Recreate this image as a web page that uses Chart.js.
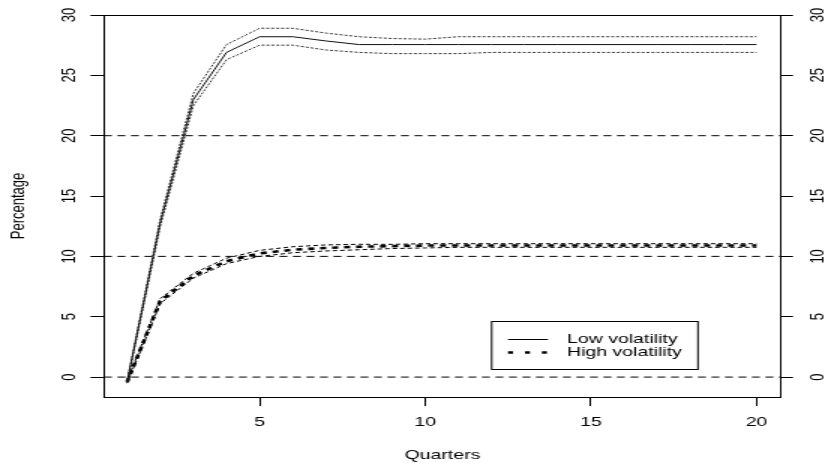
<!DOCTYPE html>
<html>
<head>
<meta charset="utf-8">
<script src="https://cdn.jsdelivr.net/npm/chart.js@4/dist/chart.umd.min.js"></script>
<style>
  html, body { margin: 0; padding: 0; background: #fff; overflow: hidden; }
  /* the plot is drawn narrow and widened 1.5x, like the stretched R export */
  #wrap { width: 556px; height: 468px; transform: scaleX(1.5); transform-origin: 0 0; }
</style>
</head>
<body>
<div id="wrap"><canvas id="irfChart" width="556" height="468"></canvas></div>
<script>
const quarters = [1, 2, 3, 4, 5, 6, 7, 8, 9, 10, 11, 12, 13, 14, 15, 16, 17, 18, 19, 20];

const lowVol   = [-0.4, 12.8, 23.0, 26.9, 28.2, 28.2, 27.85, 27.55, 27.55, 27.55, 27.55, 27.55, 27.55, 27.55, 27.55, 27.55, 27.55, 27.55, 27.55, 27.55];
const lowUpper = [-0.3, 13.1, 23.5, 27.55, 28.9, 28.9, 28.5, 28.2, 28.05, 28.0, 28.2, 28.2, 28.2, 28.2, 28.2, 28.2, 28.2, 28.2, 28.2, 28.2];
const lowLower = [-0.5, 12.5, 22.5, 26.3, 27.5, 27.5, 27.1, 26.9, 26.8, 26.8, 26.8, 26.9, 26.9, 26.9, 26.9, 26.9, 26.9, 26.9, 26.9, 26.9];

const highVol   = [-0.4, 6.3, 8.4, 9.6, 10.25, 10.55, 10.7, 10.8, 10.85, 10.9, 10.9, 10.9, 10.9, 10.9, 10.9, 10.9, 10.9, 10.9, 10.9, 10.9];
const highUpper = [-0.3, 6.5, 8.6, 9.85, 10.5, 10.8, 10.95, 11.0, 11.0, 11.05, 11.05, 11.05, 11.05, 11.05, 11.05, 11.05, 11.05, 11.05, 11.05, 11.05];
const highLower = [-0.5, 6.1, 8.2, 9.4, 10.0, 10.3, 10.45, 10.55, 10.65, 10.7, 10.75, 10.75, 10.75, 10.75, 10.75, 10.75, 10.75, 10.75, 10.75, 10.75];

const refLevels = [0, 10, 20];
const xTicks = [5, 10, 15, 20];
const yTicks = [0, 5, 10, 15, 20, 25, 30];
const legendLabels = ["Low volatility", "High volatility"];

const X_MIN = 0.3, X_MAX = 20.74;
const Y_MIN = -1.65, Y_MAX = 30;
const FONT = '"Liberation Sans", Arial, sans-serif';

const toPoints = (vals) => quarters.map((q, i) => ({ x: q, y: vals[i] }));

function series(vals, width, dash, color) {
  return {
    data: toPoints(vals),
    borderColor: color || "#000",
    borderWidth: width,
    borderDash: dash,
    pointRadius: 0,
    tension: 0,
    fill: false
  };
}

const datasets = [
  series(lowVol, 1, [], "#111"),
  series(lowUpper, 1, [2, 1.3], "#333"),
  series(lowLower, 1, [2, 1.3], "#333"),
  series(highUpper, 1, [3, 2]),
  series(highLower, 1, [3, 2]),
  series(highVol, 2.6, [4, 4])
];

// horizontal dashed reference lines
refLevels.forEach((lvl) => {
  datasets.push({
    data: [{ x: X_MIN, y: lvl }, { x: X_MAX, y: lvl }],
    borderColor: "#000",
    borderWidth: 1,
    borderDash: [5.3, 3.7],
    pointRadius: 0
  });
});

// rotated y labels on both sides plus the top edge of the box
const frameText = {
  id: "frameText",
  afterDraw(chart) {
    const ctx = chart.ctx;
    const area = chart.chartArea;
    ctx.save();
    ctx.fillStyle = "#000";
    ctx.font = "13px " + FONT;
    ctx.textAlign = "center";
    ctx.textBaseline = "middle";
    [["y", area.left - 22.6], ["y2", area.right + 24.6]].forEach(([id, cx]) => {
      const scale = chart.scales[id];
      scale.ticks.forEach((t) => {
        const py = scale.getPixelForValue(t.value);
        ctx.save();
        ctx.translate(cx, py);
        ctx.rotate(-Math.PI / 2);
        ctx.fillText(String(t.value), 0, 0);
        ctx.restore();
      });
    });
    ctx.strokeStyle = "#000";
    ctx.lineWidth = 1;
    ctx.beginPath();
    ctx.moveTo(area.left, Math.round(area.top) + 0.5);
    ctx.lineTo(area.right, Math.round(area.top) + 0.5);
    ctx.stroke();
    ctx.restore();
  }
};

// boxed legend in the lower right of the plot
const boxLegend = {
  id: "boxLegend",
  afterDraw(chart) {
    const ctx = chart.ctx;
    const box = { left: 327.8, top: 321.5, right: 465.3, bottom: 369.5 };
    ctx.save();
    ctx.strokeStyle = "#000";
    ctx.lineWidth = 1;
    ctx.strokeRect(box.left, box.top, box.right - box.left, box.bottom - box.top);

    const rows = [
      { y: 339.5, width: 1, dash: [] },
      { y: 352.5, width: 2.6, dash: [3.3, 8] }
    ];
    ctx.font = "13px " + FONT;
    ctx.textAlign = "left";
    ctx.textBaseline = "middle";
    ctx.fillStyle = "#000";
    rows.forEach((r, i) => {
      ctx.lineWidth = r.width;
      ctx.setLineDash(r.dash);
      ctx.beginPath();
      ctx.moveTo(338.7, r.y);
      ctx.lineTo(365.3, r.y);
      ctx.stroke();
      ctx.fillText(legendLabels[i], 378, r.y);
    });
    ctx.restore();
  }
};

const yScale = (position, width, tickLength, title) => ({
  type: "linear",
  position: position,
  min: Y_MIN,
  max: Y_MAX,
  afterBuildTicks: (s) => { s.ticks = yTicks.map((v) => ({ value: v })); },
  afterFit: (s) => { s.width = width; },
  grid: { drawOnChartArea: false, drawTicks: true, tickLength: tickLength, tickColor: "#000", tickWidth: 1 },
  border: { display: true, color: "#000", width: 1 },
  ticks: { display: false },
  title: title
});

Chart.defaults.font.family = FONT;
Chart.defaults.color = "#000";

new Chart(document.getElementById("irfChart"), {
  type: "line",
  data: { datasets: datasets },
  options: {
    responsive: false,
    animation: false,
    devicePixelRatio: 1,
    layout: { padding: { top: 15, left: 0, right: 0, bottom: 0 } },
    plugins: { legend: { display: false }, tooltip: { enabled: false } },
    scales: {
      x: {
        type: "linear",
        min: X_MIN,
        max: X_MAX,
        afterBuildTicks: (s) => { s.ticks = xTicks.map((v) => ({ value: v })); },
        afterFit: (s) => { s.height = 71; },
        grid: { drawOnChartArea: false, tickLength: 9, tickColor: "#000", tickWidth: 1 },
        border: { display: true, color: "#000", width: 1 },
        ticks: { color: "#000", font: { size: 13 }, padding: 9, maxRotation: 0, autoSkip: false },
        title: { display: true, text: "Quarters", color: "#000", font: { size: 13 }, padding: { top: 0, bottom: 5 } }
      },
      y: yScale("left", 69.3, 9, { display: true, text: "Percentage", color: "#000", font: { size: 13 }, padding: { top: 5, bottom: 0 } }),
      y2: yScale("right", 35.3, 8, { display: false })
    }
  },
  plugins: [frameText, boxLegend]
});
</script>
</body>
</html>
